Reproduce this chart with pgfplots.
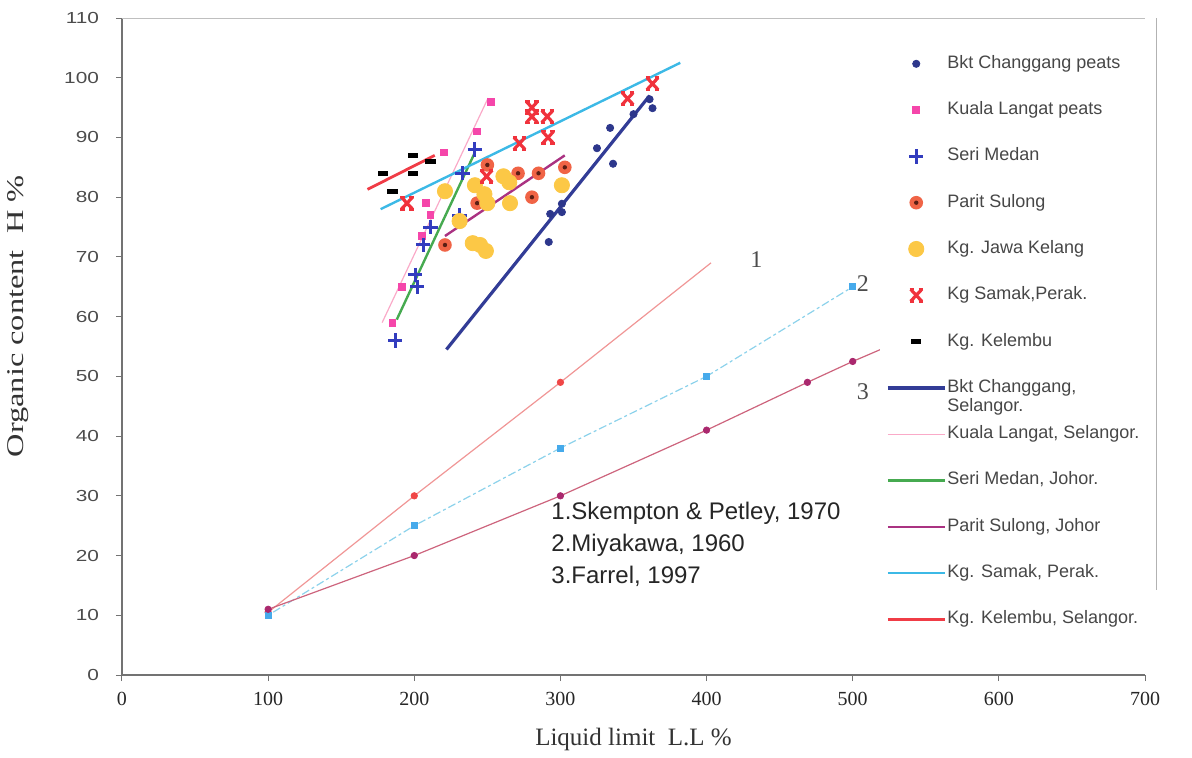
\documentclass[border=0pt]{standalone}
\usepackage{pgfplots}
\pgfplotsset{compat=1.18}
\usepackage{fontspec}
\setmainfont{Liberation Serif}
\newfontfamily\arial{Liberation Sans}
\newfontfamily\arialw[FakeStretch=1.3]{Liberation Sans}
\newfontfamily\serifw[FakeStretch=1.35]{Liberation Serif}

\definecolor{bkt}{RGB}{45,55,140}
\definecolor{kuala}{RGB}{245,70,170}
\definecolor{seri}{RGB}{50,60,190}
\definecolor{parit}{RGB}{240,100,70}
\definecolor{paritc}{RGB}{90,30,20}
\definecolor{jawa}{RGB}{252,200,70}
\definecolor{samak}{RGB}{240,50,60}
\definecolor{bktline}{RGB}{50,60,150}
\definecolor{kualaline}{RGB}{250,170,200}
\definecolor{seriline}{RGB}{70,170,80}
\definecolor{paritline}{RGB}{170,50,130}
\definecolor{samakline}{RGB}{60,185,230}
\definecolor{kelline}{RGB}{240,60,70}
\definecolor{skline}{RGB}{240,150,150}
\definecolor{skmark}{RGB}{240,70,70}
\definecolor{miline}{RGB}{140,210,235}
\definecolor{mimark}{RGB}{70,170,235}
\definecolor{faline}{RGB}{205,100,125}
\definecolor{famark}{RGB}{170,40,110}

\pgfdeclareplotmark{kdash}{%
  \pgfpathrectangle{\pgfpoint{-2.6pt}{-1.2pt}}{\pgfpoint{5.2pt}{2.4pt}}\pgfusepathqfill}
\pgfdeclareplotmark{ringdot}{%
  \pgfpathcircle{\pgfpointorigin}{3.4pt}\pgfsetfillcolor{parit}\pgfusepathqfill
  \pgfpathcircle{\pgfpointorigin}{1.1pt}\pgfsetfillcolor{paritc}\pgfusepathqfill}
\pgfdeclareplotmark{bowx}{%
  \pgfsetlinewidth{1.6pt}%
  \pgfpathmoveto{\pgfpoint{-2.8pt}{-3pt}}\pgfpathlineto{\pgfpoint{2.8pt}{3pt}}%
  \pgfpathmoveto{\pgfpoint{-2.8pt}{3pt}}\pgfpathlineto{\pgfpoint{2.8pt}{-3pt}}%
  \pgfusepathqstroke
  \pgfsetlinewidth{1.2pt}%
  \pgfpathmoveto{\pgfpoint{-3.3pt}{3.1pt}}\pgfpathlineto{\pgfpoint{-1.2pt}{3.1pt}}%
  \pgfpathmoveto{\pgfpoint{1.2pt}{3.1pt}}\pgfpathlineto{\pgfpoint{3.3pt}{3.1pt}}%
  \pgfpathmoveto{\pgfpoint{-3.3pt}{-3.1pt}}\pgfpathlineto{\pgfpoint{-1.2pt}{-3.1pt}}%
  \pgfpathmoveto{\pgfpoint{1.2pt}{-3.1pt}}\pgfpathlineto{\pgfpoint{3.3pt}{-3.1pt}}%
  \pgfusepathqstroke}

\begin{document}
\begin{tikzpicture}
\begin{axis}[
  scale only axis, width=511.5pt, height=328.5pt,
  xmin=0, xmax=700, ymin=0, ymax=110,
  xtick={0,100,...,700}, ytick={0,10,...,110},
  axis lines*=left,
  axis line style={draw=black!55, line width=0.6pt},
  tick style={draw=black!55, line width=0.5pt},
  tick align=outside, major tick length=3pt,
  /pgf/number format/assume math mode=true,
  xticklabel style={font=\fontsize{10}{12}\selectfont, text=black!85, yshift=-2pt},
  yticklabel style={font=\arialw\fontsize{8}{9}\selectfont, text=black!70, xshift=-5pt},
  xlabel={Liquid limit\ \ L.L \%},
  ylabel={Organic content\ \ H \%},
  xlabel style={at={(axis description cs:0.5,-0.0975)}, anchor=center, font=\fontsize{12.5}{14}\selectfont, text=black!80},
  ylabel style={at={(axis description cs:-0.1017,0.546)}, anchor=center, font=\serifw\fontsize{12}{14}\selectfont, text=black!80},
  legend cell align=left,
  legend image code/.code={\draw[mark repeat=2,mark phase=2] plot coordinates {(0pt,0pt) (14.25pt,0pt) (28.5pt,0pt)};},
  legend style={at={(0.7407,0.951)}, anchor=north west, draw=none, fill=white,
    font=\arial\fontsize{9}{10}\selectfont, text=black!72, row sep=13.95pt,
    column sep=0pt,
    nodes={inner sep=0.5pt, text height=6.3pt, text depth=1.9pt}},
]
% reference lines (not in legend)
\addplot[skline, line width=0.6pt, forget plot] coordinates {(100,10.5) (200,30) (300,49) (403,69)};
\addplot[only marks, mark=*, mark size=1.6pt, skmark, forget plot] coordinates {(100,10.5) (200,30) (300,49)};
\addplot[miline, line width=0.6pt, dash pattern=on 1.5pt off 1.5pt on 4pt off 1.5pt, forget plot] coordinates {(100,10) (200,25) (300,38) (400,50) (500,65)};
\addplot[only marks, mark=square*, mark size=1.5pt, mimark, forget plot] coordinates {(100,10) (200,25) (300,38) (400,50) (500,65)};
\addplot[faline, line width=0.6pt, forget plot] coordinates {(100,11) (200,20) (300,30) (400,41) (469,49) (500,52.5) (520,54.6)};
\addplot[only marks, mark=*, mark size=1.6pt, famark, forget plot] coordinates {(100,11) (200,20) (300,30) (400,41) (469,49) (500,52.5)};

% data points
\addplot[only marks, mark=*, mark size=1.8pt, bkt] coordinates {
 (292,72.5) (293,77.2) (301,77.5) (301,78.9) (325,88.2) (334,91.6) (336,85.6) (350,93.9) (363,94.9) (361,96.4)};
\addlegendentry{Bkt Changgang peats}
\addplot[only marks, mark=square*, mark size=1.7pt, kuala] coordinates {
 (185,59) (191.5,65) (205,73.5) (208,79) (211,77) (220,87.5) (243,91) (252.5,96)};
\addlegendentry{Kuala Langat peats}
\addplot[only marks, mark=+, mark size=3.6pt, line width=1.5pt, seri] coordinates {
 (187,56) (200.5,67) (202,65) (206,72) (211,75) (231,77) (233,84) (241.5,88)};
\addlegendentry{Seri Medan}
\addplot[only marks, mark=ringdot] coordinates {
 (221,72) (243,79) (250,85.4) (271,84) (285,84) (280.5,80) (303,85)};
\addlegendentry{Parit Sulong}
\addplot[only marks, mark=*, mark size=3.8pt, jawa] coordinates {
 (221,81) (231,76) (241.5,82) (248,80.5) (250,79) (261,83.5) (265,82.5) (265.5,79) (301,82) (240,72.3) (245,72) (249,71)};
\addlegendentry{Kg. Jawa Kelang}
\addplot[only marks, mark=bowx, samak] coordinates {
 (195,79) (249.5,83.5) (272,89) (280.5,95) (280.5,93.5) (291,93.5) (291.5,90) (346,96.5) (363,99)};
\addlegendentry{Kg Samak,Perak.}
\addplot[only marks, mark=kdash, black] coordinates {
 (178.5,84) (185,81) (199,87) (199,84) (211,86)};
\addlegendentry{Kg. Kelembu}

% trend lines
\addplot[bktline, line width=1.6pt] coordinates {(222,54.5) (361,97)};
\addlegendentry{\smash{\begin{tabular}[t]{@{}l@{}}Bkt Changgang,\\[-0.5pt]Selangor.\end{tabular}}}
\addplot[kualaline, line width=0.6pt] coordinates {(178,59) (250.5,96.6)};
\addlegendentry{Kuala Langat, Selangor.}
\addplot[seriline, line width=1.2pt] coordinates {(188,59.5) (241.5,87.5)};
\addlegendentry{Seri Medan, Johor.}
\addplot[paritline, line width=1.2pt] coordinates {(221,73.5) (303,87)};
\addlegendentry{Parit Sulong, Johor}
\addplot[samakline, line width=1.2pt] coordinates {(177,78) (382,102.5)};
\addlegendentry{Kg. Samak, Perak.}
\addplot[kelline, line width=1.4pt] coordinates {(168,81.3) (214,87)};
\addlegendentry{Kg. Kelembu, Selangor.}

% annotations
\node[anchor=west, font=\arial\fontsize{12}{14}\selectfont, text=black!85] at (axis cs:289,27.1) {1.Skempton \& Petley, 1970};
\node[anchor=west, font=\arial\fontsize{12}{14}\selectfont, text=black!85] at (axis cs:289,21.7) {2.Miyakawa, 1960};
\node[anchor=west, font=\arial\fontsize{12}{14}\selectfont, text=black!85] at (axis cs:289,16.6) {3.Farrel, 1997};
\node[font=\fontsize{12}{14}\selectfont, text=black!70] at (axis cs:434,69.5) {1};
\node[font=\fontsize{12}{14}\selectfont, text=black!70] at (axis cs:507,65.5) {2};
\node[font=\fontsize{12}{14}\selectfont, text=black!70] at (axis cs:507,47.5) {3};
\end{axis}
\draw[black!25, line width=0.5pt] (current axis.north west) -- (current axis.north east);
\draw[black!30, line width=0.5pt] ([xshift=5.5pt]current axis.north east) -- ([xshift=5.5pt,yshift=-286pt]current axis.north east);
\path[use as bounding box] ([xshift=-61pt,yshift=-39.5pt]current axis.south west) rectangle ([xshift=23.5pt,yshift=9pt]current axis.north east);
\end{tikzpicture}
\end{document}
